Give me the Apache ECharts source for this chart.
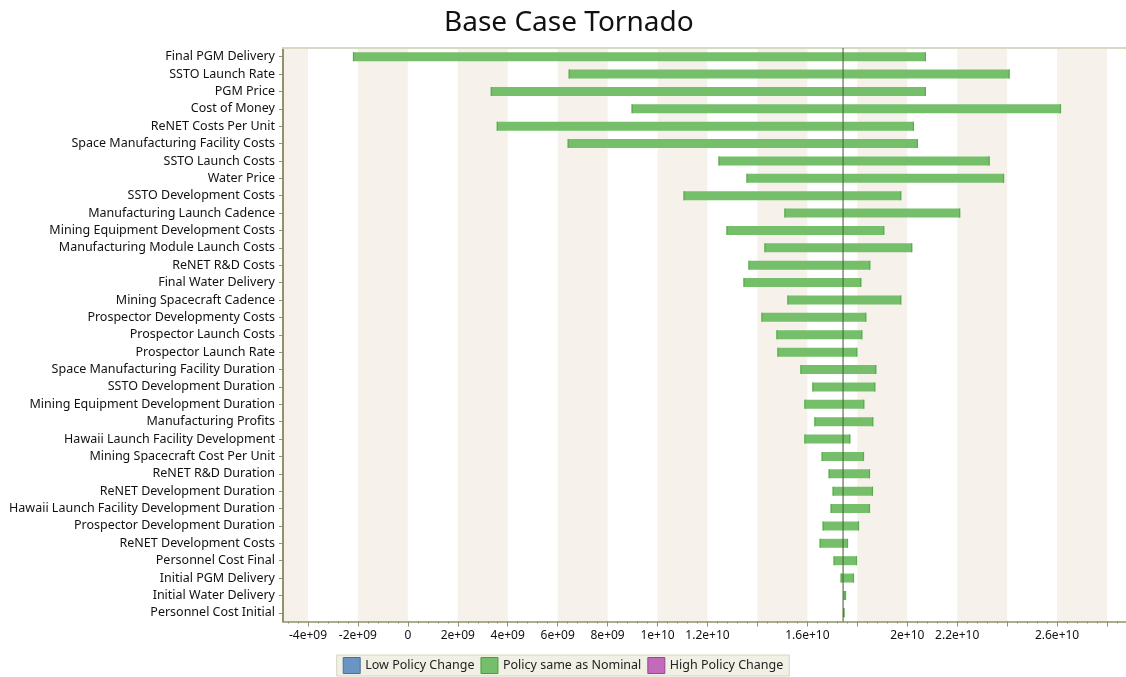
<!DOCTYPE html>
<html>
<head>
<meta charset="utf-8">
<title>Base Case Tornado</title>
<script src="https://cdn.jsdelivr.net/npm/echarts@6/dist/echarts.min.js"></script>
<style>
  html, body { margin: 0; padding: 0; background: #fff; }
  #chart { width: 1126px; height: 677px; }
</style>
</head>
<body>
<div id="chart"></div>
<script>
// 变量名称（从上到下）
var categories = [
  'Final PGM Delivery', 'SSTO Launch Rate', 'PGM Price', 'Cost of Money',
  'ReNET Costs Per Unit', 'Space Manufacturing Facility Costs', 'SSTO Launch Costs',
  'Water Price', 'SSTO Development Costs', 'Manufacturing Launch Cadence',
  'Mining Equipment Development Costs', 'Manufacturing Module Launch Costs',
  'ReNET R&D Costs', 'Final Water Delivery', 'Mining Spacecraft Cadence',
  'Prospector Developmenty Costs', 'Prospector Launch Costs', 'Prospector Launch Rate',
  'Space Manufacturing Facility Duration', 'SSTO Development Duration',
  'Mining Equipment Development Duration', 'Manufacturing Profits',
  'Hawaii Launch Facility Development', 'Mining Spacecraft Cost Per Unit',
  'ReNET R&D Duration', 'ReNET Development Duration',
  'Hawaii Launch Facility Development Duration', 'Prospector Development Duration',
  'ReNET Development Costs', 'Personnel Cost Final', 'Initial PGM Delivery',
  'Initial Water Delivery', 'Personnel Cost Initial'
];

// 每个变量的低值 / 高值
var lowValues = [
  -2.2e9, 6.44e9, 3.32e9, 8.96e9, 3.56e9, 6.4e9, 12.44e9, 13.56e9, 11.04e9, 15.08e9,
  12.76e9, 14.28e9, 13.64e9, 13.44e9, 15.2e9, 14.16e9, 14.76e9, 14.8e9, 15.72e9, 16.2e9,
  15.88e9, 16.28e9, 15.88e9, 16.57e9, 16.85e9, 17.01e9, 16.93e9, 16.61e9, 16.49e9,
  17.05e9, 17.33e9, 17.45e9, 17.44e9
];
var highValues = [
  20.75e9, 24.1e9, 20.75e9, 26.16e9, 20.27e9, 20.43e9, 23.3e9, 23.88e9, 19.76e9, 22.12e9,
  19.08e9, 20.2e9, 18.52e9, 18.16e9, 19.76e9, 18.36e9, 18.2e9, 18.0e9, 18.76e9, 18.72e9,
  18.28e9, 18.64e9, 17.72e9, 18.27e9, 18.51e9, 18.63e9, 18.51e9, 18.07e9, 17.63e9,
  17.99e9, 17.87e9, 17.55e9, 17.48e9
];

// 基准值（竖线）
var nominalValue = 1.743e10;

// x轴刻度标签（有些被原图省略）
var tickLabels = [-4e9, -2e9, 0, 2e9, 4e9, 6e9, 8e9, 1e10, 1.2e10, 1.6e10, 2e10, 2.2e10, 2.6e10];

var legendNames = ['Low Policy Change', 'Policy same as Nominal', 'High Policy Change'];

var xMin = -5e9, xMax = 2.876e10, step = 2e9;

// 主刻度和次刻度的位置
var majorTicks = [], minorTicks = [];
for (var t = -4e9; t <= xMax; t += step) majorTicks.push(t);
for (var m = -48; m * 1e8 <= xMax; m += 4) minorTicks.push(m * 1e8);

// 背景条纹（米色）
var bands = [[xMin, -4e9, 0]];
for (var b = -2e9; b < xMax; b += 2 * step) {
  bands.push([b, Math.min(b + step, xMax), 0]);
}

var seriesData = categories.map(function (c, i) {
  return [lowValues[i], highValues[i], i];
});

function fmt(v) {
  if (v === 0) return '0';
  var s = v.toExponential().split('e');
  var e = s[1];
  var d = e.slice(1);
  if (d.length < 2) d = '0' + d;
  return s[0] + 'e' + e[0] + d;
}

function renderBar(params, api) {
  var y = api.value(2);
  var p0 = api.coord([api.value(0), y]);
  var p1 = api.coord([api.value(1), y]);
  var h = 9;
  var w = Math.max(p1[0] - p0[0], 1);
  return {
    type: 'group',
    children: [
      { type: 'rect', shape: { x: p0[0], y: p0[1] - h / 2, width: w, height: h }, style: { fill: '#75bf6a' } },
      { type: 'rect', shape: { x: p0[0], y: p0[1] - h / 2, width: 1.2, height: h }, style: { fill: '#5aae4f' } },
      { type: 'rect', shape: { x: p0[0] + w - 1.2, y: p0[1] - h / 2, width: 1.2, height: h }, style: { fill: '#5aae4f' } }
    ]
  };
}

// 整列高度的条纹
function renderBand(params, api) {
  var cs = params.coordSys;
  var x0 = api.coord([api.value(0), 0])[0];
  var x1 = api.coord([api.value(1), 0])[0];
  return { type: 'rect', shape: { x: x0, y: cs.y, width: x1 - x0, height: cs.height }, style: { fill: '#f6f1ea' } };
}

// 基准竖线
function renderNominal(params, api) {
  var cs = params.coordSys;
  var x = api.coord([api.value(0), 0])[0];
  return {
    type: 'line',
    shape: { x1: x, y1: cs.y, x2: x, y2: cs.y + cs.height },
    style: { stroke: '#4f5d3e', lineWidth: 1.5, opacity: 0.7 }
  };
}

var chart = echarts.init(document.getElementById('chart'));
var font = '"Noto Sans", "DejaVu Sans", sans-serif';
var dims = ['low', 'high', 'cat'];

var option = {
  animation: false,
  title: {
    text: 'Base Case Tornado',
    left: 439,
    top: 4,
    textStyle: { fontFamily: font, fontSize: 28, fontWeight: 'normal', color: '#111' }
  },
  legend: {
    bottom: 1,
    left: 'center',
    icon: 'rect',
    itemWidth: 17,
    itemHeight: 16,
    itemGap: 6,
    padding: [2, 6],
    backgroundColor: '#f0f0e4',
    borderColor: '#d6d6c0',
    borderWidth: 1,
    borderRadius: 0,
    selectedMode: false,
    textStyle: { fontFamily: font, fontSize: 12.5, color: '#222' },
    data: [
      { name: legendNames[0], itemStyle: { color: '#6a94c4', borderColor: '#4a6f9a', borderWidth: 1 } },
      { name: legendNames[1], itemStyle: { color: '#75bf6a', borderColor: '#4f9a46', borderWidth: 1 } },
      { name: legendNames[2], itemStyle: { color: '#c46abb', borderColor: '#964a8e', borderWidth: 1 } }
    ]
  },
  grid: { left: 283, right: 0, top: 48, bottom: 55.5, containLabel: false },
  xAxis: [
    {
      type: 'value',
      min: xMin,
      max: xMax,
      position: 'bottom',
      axisLine: { show: true, onZero: false, lineStyle: { color: '#8c9469', width: 1.5 } },
      axisTick: { show: true, customValues: majorTicks, length: 5, lineStyle: { color: '#8c9469' } },
      axisLabel: {
        customValues: tickLabels,
        formatter: fmt,
        margin: 8,
        fontFamily: font,
        fontSize: 12,
        color: '#111'
      },
      splitLine: { show: false }
    },
    {
      type: 'value',
      min: xMin,
      max: xMax,
      position: 'bottom',
      axisLine: { show: false },
      axisTick: { show: true, customValues: minorTicks, length: 2, lineStyle: { color: '#8c9469' } },
      axisLabel: { show: false },
      splitLine: { show: false }
    },
    {
      type: 'value',
      min: xMin,
      max: xMax,
      position: 'top',
      axisLine: { show: true, onZero: false, lineStyle: { color: '#d8d8c6', width: 2 } },
      axisTick: { show: false },
      axisLabel: { show: false },
      splitLine: { show: false }
    }
  ],
  yAxis: {
    type: 'category',
    data: categories,
    inverse: true,
    axisLine: { show: true, onZero: false, lineStyle: { color: '#8c9469', width: 2 } },
    axisTick: { show: true, alignWithLabel: true, length: 4, lineStyle: { color: '#8c9469' } },
    axisLabel: { fontFamily: font, fontSize: 12.5, color: '#111', margin: 8 },
    splitLine: { show: false }
  },
  series: [
    {
      name: 'bands',
      type: 'custom',
      renderItem: renderBand,
      dimensions: dims,
      encode: { x: [0, 1], y: 2 },
      data: bands,
      silent: true,
      z: 0
    },
    {
      name: legendNames[0],
      type: 'custom',
      renderItem: renderBar,
      dimensions: dims,
      encode: { x: [0, 1], y: 2 },
      data: [],
      itemStyle: { color: '#6a94c4' }
    },
    {
      name: legendNames[1],
      type: 'custom',
      renderItem: renderBar,
      dimensions: dims,
      encode: { x: [0, 1], y: 2 },
      data: seriesData,
      itemStyle: { color: '#75bf6a' },
      z: 2
    },
    {
      name: legendNames[2],
      type: 'custom',
      renderItem: renderBar,
      dimensions: dims,
      encode: { x: [0, 1], y: 2 },
      data: [],
      itemStyle: { color: '#c46abb' }
    },
    {
      name: 'nominal',
      type: 'custom',
      renderItem: renderNominal,
      dimensions: dims,
      encode: { x: [0, 1], y: 2 },
      data: [[nominalValue, nominalValue, 0]],
      silent: true,
      z: 3
    }
  ]
};
chart.setOption(option);
</script>
</body>
</html>
